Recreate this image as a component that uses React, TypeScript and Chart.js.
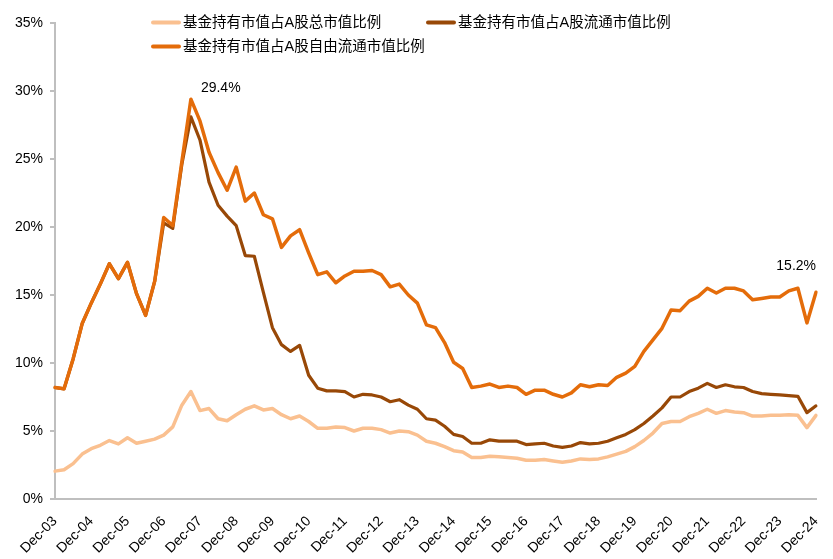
import React, { useEffect, useRef } from 'react';
import { Chart, registerables } from 'chart.js';

Chart.register(...registerables);

// ---- categories ----
const yearSuffixes = ['04', '05', '06', '07', '08', '09', '10', '11', '12', '13', '14', '15', '16', '17', '18', '19', '20', '21', '22', '23', '24'];
const quarterMonths = ['Mar', 'Jun', 'Sep', 'Dec'];
const firstLabel = 'Dec-03';
const quarterLabels: string[] = [firstLabel];
yearSuffixes.forEach((y) => quarterMonths.forEach((m) => quarterLabels.push(`${m}-${y}`)));

// ---- series names ----
const seriesNames = ['基金持有市值占A股总市值比例', '基金持有市值占A股流通市值比例', '基金持有市值占A股自由流通市值比例'];

// ---- series values (%) ----
const totalMktRatio = [
  2.05, 2.15, 2.6, 3.3, 3.7, 3.95, 4.3, 4.05, 4.5, 4.1, 4.25, 4.4,
  4.7, 5.3, 6.9, 7.9, 6.5, 6.65, 5.9, 5.75, 6.2, 6.6, 6.85, 6.55,
  6.65, 6.2, 5.9, 6.1, 5.7, 5.2, 5.2, 5.3, 5.25, 5.0, 5.2, 5.2,
  5.1, 4.85, 5.0, 4.95, 4.7, 4.25, 4.1, 3.85, 3.55, 3.45, 3.05, 3.05,
  3.15, 3.1, 3.05, 3.0, 2.85, 2.85, 2.9, 2.8, 2.7, 2.8, 2.95, 2.9,
  2.95, 3.1, 3.3, 3.5, 3.85, 4.3, 4.85, 5.55, 5.7, 5.7, 6.05, 6.3,
  6.6, 6.3, 6.5, 6.4, 6.35, 6.1, 6.1, 6.15, 6.15, 6.2, 6.15, 5.25,
  6.15,
];
const floatMktRatio = [
  8.2, 8.1, 10.3, 12.9, 14.4, 15.8, 17.3, 16.2, 17.4, 15.1, 13.5, 16.0,
  20.3, 19.9, 24.6, 28.1, 26.4, 23.3, 21.6, 20.8, 20.1, 17.9, 17.85, 15.2,
  12.6, 11.35, 10.85, 11.3, 9.1, 8.15, 7.95, 7.95, 7.9, 7.5, 7.7, 7.65,
  7.5, 7.15, 7.3, 6.9, 6.6, 5.9, 5.8, 5.35, 4.75, 4.6, 4.1, 4.1,
  4.35, 4.25, 4.25, 4.25, 4.0, 4.05, 4.1, 3.9, 3.8, 3.9, 4.15, 4.05,
  4.1, 4.25, 4.5, 4.75, 5.1, 5.55, 6.1, 6.7, 7.5, 7.5, 7.9, 8.15,
  8.5, 8.2, 8.4, 8.25, 8.2, 7.9, 7.75, 7.7, 7.65, 7.6, 7.55, 6.35,
  6.85,
];
const freeFloatMktRatio = [
  8.2, 8.1, 10.3, 12.9, 14.4, 15.8, 17.3, 16.2, 17.4, 15.1, 13.5, 16.0,
  20.7, 20.1, 24.8, 29.4, 27.8, 25.5, 24.0, 22.7, 24.4, 21.9, 22.5, 20.9,
  20.6, 18.5, 19.35, 19.8, 18.1, 16.5, 16.7, 15.9, 16.4, 16.75, 16.75, 16.8,
  16.5, 15.6, 15.8, 15.0, 14.4, 12.8, 12.6, 11.5, 10.05, 9.6, 8.2, 8.3,
  8.45, 8.2, 8.3, 8.2, 7.7, 8.0, 8.0, 7.7, 7.5, 7.8, 8.4, 8.25,
  8.4, 8.35, 8.95, 9.25, 9.75, 10.85, 11.7, 12.55, 13.9, 13.85, 14.55, 14.9,
  15.5, 15.15, 15.5, 15.5, 15.3, 14.65, 14.75, 14.85, 14.85, 15.3, 15.5, 12.95,
  15.2,
];

// ---- y tick values ----
const yTicks = [0, 5, 10, 15, 20, 25, 30, 35];

// ---- annotations (index into free-float series) ----
const annotatedIndices = [15, 84];

const colors = ['#FAC090', '#984807', '#E46C0A'];
const FONT = '"Liberation Sans", Arial, "Noto Sans CJK SC", sans-serif';

const legendPlugin = {
  id: 'customLegend',
  afterDraw(chart: any) {
    const ctx = chart.ctx as CanvasRenderingContext2D;
    const items = [
      { x: 152, y: 22.5, ds: 0 },
      { x: 427, y: 22.5, ds: 1 },
      { x: 152, y: 46.5, ds: 2 },
    ];
    ctx.save();
    ctx.font = `14.5px ${FONT}`;
    ctx.textBaseline = 'middle';
    ctx.textAlign = 'left';
    items.forEach((it) => {
      ctx.strokeStyle = colors[it.ds];
      ctx.lineWidth = 4;
      ctx.lineCap = 'round';
      ctx.beginPath();
      ctx.moveTo(it.x + 1, it.y);
      ctx.lineTo(it.x + 27, it.y);
      ctx.stroke();
      ctx.fillStyle = '#000';
      ctx.fillText(seriesNames[it.ds], it.x + 31, it.y + 0.5);
    });
    ctx.restore();
  },
};

const annotationPlugin = {
  id: 'valueLabels',
  afterDatasetsDraw(chart: any) {
    const ctx = chart.ctx as CanvasRenderingContext2D;
    const meta = chart.getDatasetMeta(2);
    ctx.save();
    ctx.font = `14px ${FONT}`;
    ctx.fillStyle = '#000';
    ctx.textBaseline = 'middle';
    annotatedIndices.forEach((idx, k) => {
      const pt = meta.data[idx];
      if (!pt) return;
      const text = freeFloatMktRatio[idx].toFixed(1) + '%';
      if (k === 0) {
        ctx.textAlign = 'left';
        ctx.fillText(text, pt.x + 10, pt.y - 11);
      } else {
        ctx.textAlign = 'right';
        ctx.fillText(text, pt.x, pt.y - 26);
      }
    });
    ctx.restore();
  },
};

export default function App() {
  const canvasRef = useRef<HTMLCanvasElement | null>(null);

  useEffect(() => {
    if (!canvasRef.current) return;
    const chart = new Chart(canvasRef.current, {
      type: 'line',
      data: {
        labels: quarterLabels,
        datasets: [
          { label: seriesNames[0], data: totalMktRatio, borderColor: colors[0], borderWidth: 3.5, order: 2 },
          { label: seriesNames[1], data: floatMktRatio, borderColor: colors[1], borderWidth: 3.2, order: 1 },
          { label: seriesNames[2], data: freeFloatMktRatio, borderColor: colors[2], borderWidth: 3.5, order: 0 },
        ].map((d) => ({
          ...d,
          pointRadius: 0,
          pointHoverRadius: 0,
          tension: 0,
          fill: false,
          borderJoinStyle: 'round' as const,
          borderCapStyle: 'round' as const,
        })),
      },
      options: {
        responsive: false,
        animation: false,
        devicePixelRatio: 1,
        layout: { padding: { left: 0, right: 17, top: 23, bottom: 0 } },
        plugins: {
          legend: { display: false },
          tooltip: { enabled: false },
        },
        scales: {
          x: {
            type: 'category',
            offset: false,
            grid: { display: false, drawTicks: false },
            border: { display: true, color: '#BFBFBF', width: 2 },
            ticks: {
              autoSkip: false,
              maxRotation: 45,
              minRotation: 45,
              padding: 14,
              color: '#000',
              font: { family: FONT, size: 14 },
              callback: (_v: any, idx: number) => (idx % 4 === 0 ? quarterLabels[idx] : null),
            },
            afterFit: (scale: any) => {
              scale.height = 60;
              scale.paddingLeft = 0;
              scale.paddingRight = 0;
            },
          },
          y: {
            min: 0,
            max: 35,
            afterBuildTicks: (scale: any) => {
              scale.ticks = yTicks.map((v) => ({ value: v }));
            },
            grid: {
              drawOnChartArea: false,
              drawTicks: true,
              tickLength: 5,
              color: '#BFBFBF',
              lineWidth: 2,
            },
            border: { display: true, color: '#BFBFBF', width: 2 },
            ticks: {
              padding: 7,
              color: '#000',
              font: { family: FONT, size: 14 },
              callback: (v: any) => `${v}%`,
            },
            afterFit: (scale: any) => {
              scale.width = 55;
            },
          },
        },
      },
      plugins: [legendPlugin, annotationPlugin],
    });
    return () => chart.destroy();
  }, []);

  return (
    <div style={{ position: 'fixed', left: 0, top: 0, width: 833, height: 559, background: '#fff' }}>
      <canvas ref={canvasRef} width={833} height={559} style={{ display: 'block', width: 833, height: 559 }} />
    </div>
  );
}
